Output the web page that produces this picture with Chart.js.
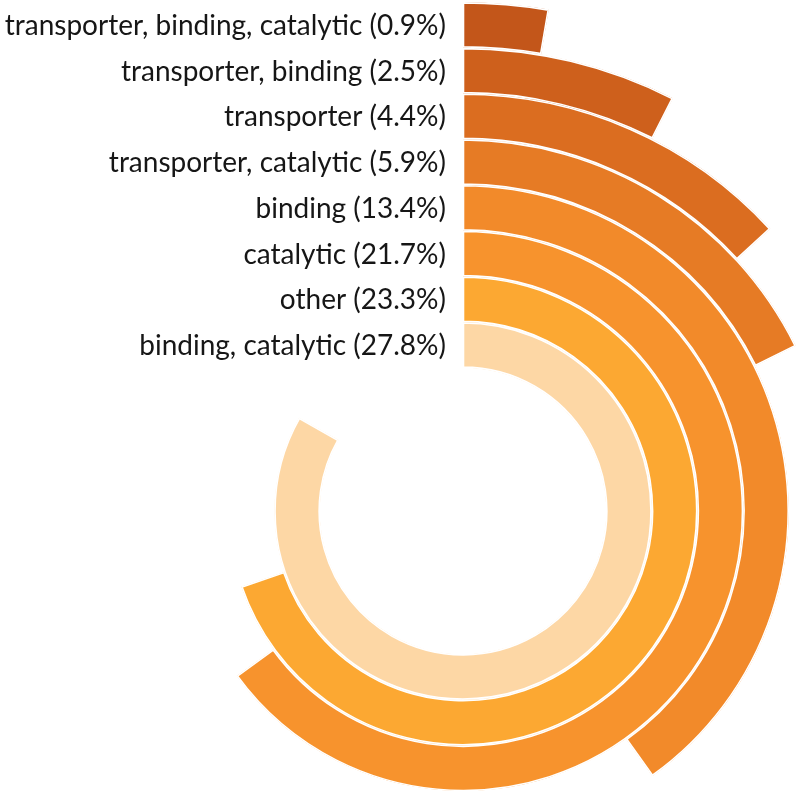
<!DOCTYPE html>
<html>
<head>
<meta charset="utf-8">
<script src="https://cdn.jsdelivr.net/npm/chart.js@4/dist/chart.umd.min.js"></script>
<style>
  html, body { margin: 0; padding: 0; background: #fff; overflow: hidden; width: 800px; height: 797px; }
  #wrap { position: absolute; left: -46px; top: 2px; width: 1018px; height: 1018px; }
</style>
</head>
<body>
<div id="wrap"><canvas id="myChart"></canvas></div>
<script>
// rings, outermost first
var categories = ['transporter, binding, catalytic', 'transporter, binding', 'transporter',
    'transporter, catalytic', 'binding', 'catalytic', 'other', 'binding, catalytic']
var shares = [0.9, 2.5, 4.4, 5.9, 13.4, 21.7, 23.3, 27.8]
var ringColors = ['#C3561A', '#CE601C', '#DB6D20', '#E67B25', '#F28A2A', '#F7932D', '#FCA832', '#FDD7A5']
// value that would close a full circle
var fullCircle = 33.4

var labelPlugin = {
    id: 'ringLabels',
    afterDatasetsDraw: function (chart) {
        var ctx = chart.ctx
        ctx.save()
        ctx.font = '28px Lato'
        ctx.fillStyle = '#161616'
        ctx.textAlign = 'right'
        ctx.textBaseline = 'middle'
        chart.data.datasets.forEach(function (ds, i) {
            var arc = chart.getDatasetMeta(i).data[0]
            var p = arc.getProps(['x', 'y', 'innerRadius', 'outerRadius'], true)
            ctx.fillText(ds.label, p.x - 17, p.y - (p.innerRadius + p.outerRadius) / 2 + 1)
        })
        ctx.restore()
    }
}

var ctx = document.getElementById('myChart').getContext('2d')
var chart = new Chart(ctx, {
    type: 'doughnut',
    data: {
        labels: ['share', 'rest'],
        datasets: categories.map(function (c, i) {
            return {
                label: c + ' (' + shares[i].toFixed(1) + '%)',
                data: [shares[i], fullCircle - shares[i]],
                backgroundColor: [ringColors[i], 'rgba(0,0,0,0)'],
                borderColor: '#ffffff',
                borderWidth: [1.3, 0],
                borderAlign: 'inner',
                offset: 0,
                hoverOffset: 0
            }
        })
    },
    options: {
        responsive: true,
        maintainAspectRatio: false,
        animation: false,
        cutout: '28.1%',
        layout: { padding: 0 },
        plugins: {
            legend: { display: false },
            tooltip: { enabled: false }
        },
        events: []
    },
    plugins: [labelPlugin]
})
</script>
</body>
</html>
